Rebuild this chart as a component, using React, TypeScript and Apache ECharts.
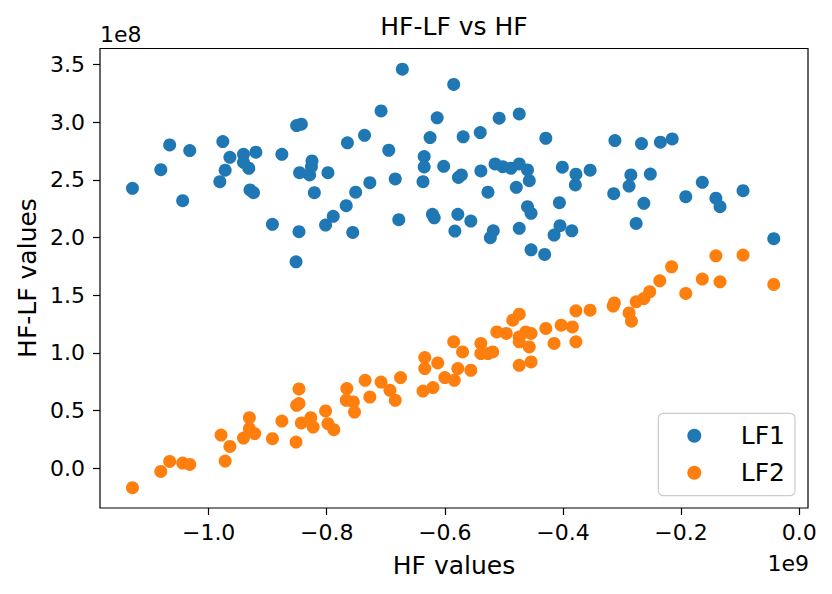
import React, { useEffect, useRef } from "react";
import * as echarts from "echarts";

const X_SCALE = 1e9;
const Y_SCALE = 1e8;

const lf1X = [
  -1.129, -1.066, -1.032, -1.081, -1.044, -0.976, -0.964, -0.941, -0.92, -0.941,
  -0.932, -0.972, -0.981, -0.93, -0.924, -0.876, -0.851, -0.843, -0.825, -0.846,
  -0.829, -0.826, -0.798, -0.821, -0.892, -0.847, -0.852, -0.802, -0.789,
  -0.672, -0.585, -0.708, -0.613, -0.508, -0.474, -0.765, -0.736, -0.695, -0.625,
  -0.569, -0.54, -0.429, -0.635, -0.635, -0.637, -0.602, -0.684, -0.727, -0.751,
  -0.767, -0.756, -0.678, -0.621, -0.618, -0.578, -0.556, -0.583, -0.518, -0.523,
  -0.474, -0.454, -0.431, -0.572, -0.577, -0.539, -0.527, -0.515, -0.502, -0.488,
  -0.474, -0.46, -0.457, -0.479, -0.46, -0.454, -0.406, -0.401, -0.415, -0.405,
  -0.378, -0.379, -0.354, -0.312, -0.267, -0.235, -0.215, -0.285, -0.288, -0.252,
  -0.314, -0.263, -0.276, -0.164, -0.192, -0.141, -0.134, -0.095, -0.043, -0.385,
];
const lf1Y = [
  2.426, 2.802, 2.753, 2.588, 2.319, 2.831, 2.695, 2.721, 2.739, 2.652,
  2.6, 2.583, 2.484, 2.412, 2.388, 2.721, 2.97, 2.982, 2.663, 2.562,
  2.542, 2.614, 2.562, 2.388, 2.114, 2.05, 1.789, 2.108, 2.183,
  3.459, 3.326, 3.097, 3.037, 3.034, 3.071, 2.82, 2.886, 2.756, 2.866,
  2.872, 2.909, 2.86, 2.701, 2.611, 2.484, 2.617, 2.507, 2.475, 2.392,
  2.275, 2.044, 2.154, 2.201, 2.17, 2.201, 2.142, 2.056, 2.058, 1.998,
  2.079, 1.893, 1.853, 2.542, 2.52, 2.577, 2.392, 2.637, 2.614, 2.6,
  2.637, 2.585, 2.492, 2.435, 2.267, 2.209, 2.301, 2.609, 2.021, 2.102,
  2.548, 2.455, 2.583, 2.84, 2.814, 2.826, 2.854, 2.542, 2.446, 2.55,
  2.379, 2.296, 2.122, 2.478, 2.353, 2.34, 2.267, 2.406, 1.989, 2.058,
];

const lf2X = [
  -1.129, -1.081, -1.066, -1.044, -1.032, -0.972, -0.979, -0.964, -0.941, -0.931,
  -0.931, -0.922, -0.892, -0.876, -0.852, -0.847, -0.847, -0.851, -0.843, -0.827,
  -0.823, -0.802, -0.798, -0.788, -0.766, -0.767, -0.753,
  -0.755, -0.735, -0.727, -0.708, -0.693, -0.684, -0.675, -0.634, -0.634, -0.612,
  -0.637, -0.62, -0.6, -0.584, -0.585, -0.57, -0.578, -0.556, -0.539, -0.539,
  -0.527, -0.519, -0.512, -0.496, -0.485, -0.474, -0.474, -0.474, -0.463, -0.454,
  -0.457, -0.474, -0.454, -0.429, -0.415, -0.403, -0.384, -0.378, -0.378,
  -0.141, -0.095, -0.043, -0.216, -0.236, -0.164, -0.134, -0.192, -0.253, -0.263,
  -0.276, -0.313, -0.315, -0.288, -0.284, -0.354,
];
const lf2Y = [
  -0.169, -0.028, 0.059, 0.044, 0.033, 0.062, 0.287, 0.189, 0.261, 0.438,
  0.343, 0.3, 0.256, 0.409, 0.227, 0.687, 0.56, 0.545, 0.392, 0.438,
  0.357, 0.496, 0.386, 0.334, 0.69, 0.589, 0.487,
  0.574, 0.762, 0.617, 0.747, 0.675, 0.589, 0.786, 0.959, 0.864, 0.912,
  0.669, 0.699, 0.786, 0.762, 1.095, 1.008, 0.864, 0.849, 1.081, 0.994,
  0.994, 1.008, 1.181, 1.168, 1.283, 1.335, 1.138, 1.095, 1.181, 1.168,
  1.051, 0.892, 0.921, 1.211, 1.081, 1.24, 1.225, 1.095, 1.364,
  1.841, 1.847, 1.593, 1.746, 1.624, 1.639, 1.616, 1.515, 1.529, 1.471,
  1.442, 1.433, 1.405, 1.346, 1.274, 1.37,
];

const seriesNames = ["LF1", "LF2"];
const xTicks = [-1.0, -0.8, -0.6, -0.4, -0.2, 0.0];
const yTicks = [0.0, 0.5, 1.0, 1.5, 2.0, 2.5, 3.0, 3.5];
const xRange = [-1.184, 0.015];
const yRange = [-0.345, 3.638];

const FONT = "DejaVu Sans";
const BLUE = "#1f77b4";
const ORANGE = "#ff7f0e";

const fmt = (v: number, scale: number) => {
  const s = (v / scale).toFixed(1);
  return s === "-0.0" ? "0.0" : s.replace("-", "\u2212");
};

const txt = (
  text: string,
  x: number,
  y: number,
  size: number,
  align: string,
  extra: Record<string, unknown> = {}
) => ({
  type: "text",
  x,
  y,
  ...extra,
  style: {
    text,
    fontSize: size,
    fontFamily: FONT,
    fill: "#000",
    textAlign: align,
    textVerticalAlign: "middle",
  },
});

export default function App() {
  const ref = useRef<HTMLDivElement>(null);

  useEffect(() => {
    if (!ref.current) return;
    const chart = echarts.init(ref.current, null, { renderer: "svg" });
    const lf1 = lf1X.map((x, i) => [x * X_SCALE, lf1Y[i] * Y_SCALE]);
    const lf2 = lf2X.map((x, i) => [x * X_SCALE, lf2Y[i] * Y_SCALE]);
    const xt = xTicks.map((v) => v * X_SCALE);
    const yt = yTicks.map((v) => v * Y_SCALE);

    const axisCommon = {
      type: "value",
      axisLine: { show: false, onZero: false },
      splitLine: { show: false },
    };

    chart.setOption({
      animation: false,
      backgroundColor: "#ffffff",
      grid: {
        left: 100,
        right: 24,
        top: 48.5,
        bottom: 86,
        show: true,
        borderColor: "#000",
        borderWidth: 1.2,
        backgroundColor: "transparent",
      },
      xAxis: {
        ...axisCommon,
        min: xRange[0] * X_SCALE,
        max: xRange[1] * X_SCALE,
        axisTick: {
          show: true,
          length: 7,
          customValues: xt,
          lineStyle: { color: "#000", width: 1.2 },
        },
        axisLabel: {
          customValues: xt,
          formatter: (v: number) => fmt(v, X_SCALE),
          color: "#000",
          fontSize: 22,
          fontFamily: FONT,
          margin: 13,
        },
      },
      yAxis: {
        ...axisCommon,
        min: yRange[0] * Y_SCALE,
        max: yRange[1] * Y_SCALE,
        axisTick: {
          show: true,
          length: 7,
          customValues: yt,
          lineStyle: { color: "#000", width: 1.2 },
        },
        axisLabel: {
          customValues: yt,
          formatter: (v: number) => fmt(v, Y_SCALE),
          color: "#000",
          fontSize: 22,
          fontFamily: FONT,
          margin: 15,
        },
      },
      graphic: [
        txt("HF-LF vs HF", 454, 26, 25, "center"),
        txt("HF values", 454, 565, 25, "center"),
        txt("HF-LF values", 27, 278, 25, "center", { rotation: Math.PI / 2 }),
        txt("1e8", 100, 34, 22, "left"),
        txt("1e9", 809, 563, 22, "right"),
        {
          type: "group",
          children: [
            {
              type: "rect",
              shape: { x: 658.3, y: 413.3, width: 136.7, height: 82.4, r: 5 },
              style: {
                fill: "rgba(255,255,255,0.8)",
                stroke: "#cccccc",
                lineWidth: 1.2,
              },
            },
            {
              type: "circle",
              shape: { cx: 694.3, cy: 435.7, r: 7 },
              style: { fill: BLUE },
            },
            {
              type: "circle",
              shape: { cx: 694.3, cy: 472.7, r: 7 },
              style: { fill: ORANGE },
            },
            txt(seriesNames[0], 785, 435.7, 25, "right"),
            txt(seriesNames[1], 785, 472.7, 25, "right"),
          ],
        },
      ],
      series: [
        {
          name: seriesNames[0],
          type: "scatter",
          data: lf1,
          symbolSize: 13,
          itemStyle: { color: BLUE, opacity: 1 },
        },
        {
          name: seriesNames[1],
          type: "scatter",
          data: lf2,
          symbolSize: 13,
          itemStyle: { color: ORANGE, opacity: 1 },
        },
      ],
    });
    return () => chart.dispose();
  }, []);

  return (
    <div
      ref={ref}
      style={{ position: "fixed", left: 0, top: 0, width: 832, height: 594 }}
    />
  );
}
